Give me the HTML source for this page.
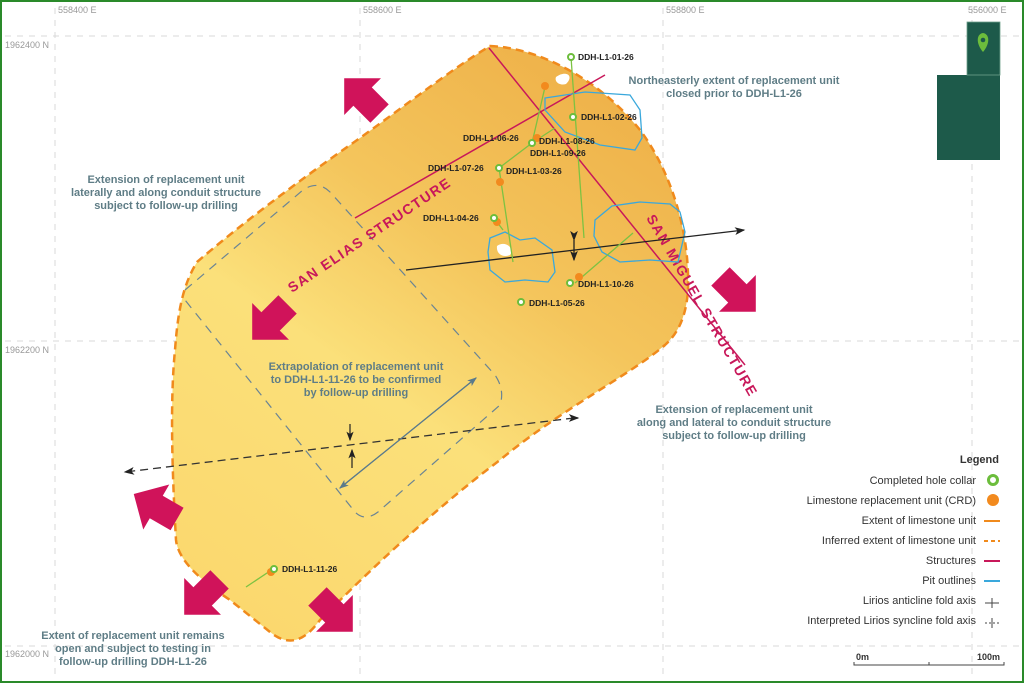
<!DOCTYPE html>
<html><head><meta charset="utf-8"><style>
html,body{margin:0;padding:0;background:#fff}
svg{display:block}
text{font-family:"Liberation Sans",sans-serif}
</style></head><body>
<svg width="1024" height="683" viewBox="0 0 1024 683" xmlns="http://www.w3.org/2000/svg">
<defs>
<linearGradient id="fill" x1="0.8" y1="0" x2="0.2" y2="1">
<stop offset="0" stop-color="#eeb048"/>
<stop offset="0.35" stop-color="#f4c55c"/>
<stop offset="0.6" stop-color="#fbe07a"/>
<stop offset="1" stop-color="#fbd86e"/>
</linearGradient>
<marker id="ah" markerWidth="8" markerHeight="8" refX="7" refY="4" orient="auto"><path d="M0,1 L8,4 L0,7 L2,4z" fill="#222"/></marker>
<marker id="ahb" markerWidth="8" markerHeight="8" refX="7" refY="4" orient="auto"><path d="M0,1 L8,4 L0,7 L2,4z" fill="#5a7a8c"/></marker>
<g id="arr"><path d="M2,-26 L28,0 L2,26 L2,13 L-22,13 L-22,-13 L2,-13z" fill="#d0135a"/></g>
</defs>
<rect x="1" y="1" width="1022" height="681" fill="#fff" stroke="#2a8a2a" stroke-width="2"/>
<g stroke="#d8d8d8" stroke-width="1" stroke-dasharray="6,6" fill="none">
<line x1="55" y1="8" x2="55" y2="680"/><line x1="360" y1="8" x2="360" y2="680"/><line x1="663" y1="8" x2="663" y2="680"/><line x1="972" y1="8" x2="972" y2="680"/>
<line x1="5" y1="36" x2="1020" y2="36"/><line x1="5" y1="341" x2="1020" y2="341"/><line x1="5" y1="646" x2="1020" y2="646"/>
</g>
<g font-size="9" fill="#999">
<text x="58" y="13">558400 E</text><text x="363" y="13">558600 E</text><text x="666" y="13">558800 E</text><text x="968" y="13">556000 E</text>
<text x="5" y="48">1962400 N</text><text x="5" y="353">1962200 N</text><text x="5" y="657">1962000 N</text>
</g>
<path d="M490,46 C540,48 600,80 640,130 C670,170 690,230 688,290 C686,320 676,335 665,345 C630,375 560,410 500,460 C440,505 380,560 320,620 C305,640 290,648 270,632 L230,600 C200,580 178,560 176,540 C172,470 170,400 175,350 C178,310 183,285 197,262 C240,225 300,180 350,145 C400,110 450,70 490,46z" fill="url(#fill)"/>
<path d="M490,46 C540,48 600,80 640,130 C670,170 690,230 688,290 C686,320 676,335 665,345 C630,375 560,410 500,460 C440,505 380,560 320,620 C305,640 290,648 270,632 L230,600 C200,580 178,560 176,540 C172,470 170,400 175,350 C178,310 183,285 197,262 C240,225 300,180 350,145 C400,110 450,70 490,46z" fill="none" stroke="#f08a1c" stroke-width="2.5" stroke-dasharray="8,5"/>
<path d="M185,290 L303,190 Q318,180 330,192 L495,375 Q505,390 500,405 L378,512 Q365,522 355,512 L185,300" fill="none" stroke="#6a8494" stroke-width="1.2" stroke-dasharray="9,7"/>
<g stroke="#c8185a" stroke-width="1.5" fill="none">
<line x1="489" y1="48" x2="745" y2="365"/>
<line x1="355" y1="218" x2="605" y2="75"/>
</g>
<text transform="translate(292,293) rotate(-34)" font-size="14" font-weight="bold" fill="#c8185a" letter-spacing="1.5">SAN ELIAS STRUCTURE</text>
<text transform="translate(646,218) rotate(60)" font-size="14" font-weight="bold" fill="#c8185a" letter-spacing="1.5">SAN MIGUEL STRUCTURE</text>
<g stroke="#3aa8dc" stroke-width="1.3" fill="none">
<path d="M545,98 L585,92 L630,95 L640,110 L642,138 L635,150 L600,145 L565,132 L545,110z"/>
<path d="M490,238 L505,232 L520,240 L535,238 L552,250 L555,272 L548,282 L525,280 L505,282 L490,270 L488,252z"/>
<path d="M595,220 L612,206 L640,202 L670,204 L680,212 L685,232 L678,262 L650,260 L620,262 L602,252 L594,236z"/>
</g>
<path d="M497,246 C505,240 515,248 510,255 C503,258 496,254 497,246z" fill="#fff"/>
<path d="M556,77 C565,70 575,75 566,84 C560,86 554,82 556,77z" fill="#fff"/>
<line x1="406" y1="270" x2="744" y2="230" stroke="#222" stroke-width="1.3" marker-end="url(#ah)"/>
<line x1="574" y1="240" x2="574" y2="260" stroke="#222" stroke-width="1.3" marker-end="url(#ah)" marker-start="url(#ah)"/>
<line x1="574" y1="418" x2="125" y2="472" stroke="#333" stroke-width="1.3" stroke-dasharray="8,5" marker-end="url(#ah)"/>
<line x1="574" y1="418" x2="578" y2="418" stroke="#333" stroke-width="1.3" marker-end="url(#ah)"/>
<line x1="350" y1="424" x2="350" y2="440" stroke="#222" stroke-width="1.2" marker-end="url(#ah)"/>
<line x1="352" y1="468" x2="352" y2="450" stroke="#222" stroke-width="1.2" marker-end="url(#ah)"/>
<line x1="340" y1="488" x2="476" y2="378" stroke="#5a7a8c" stroke-width="1.2" marker-end="url(#ahb)"/>
<line x1="476" y1="378" x2="340" y2="488" stroke="#5a7a8c" stroke-width="1.2" marker-end="url(#ahb)"/>
<g stroke="#7cc242" stroke-width="1.3">
<line x1="571" y1="57" x2="584" y2="238"/>
<line x1="532" y1="143" x2="545" y2="87"/>
<line x1="532" y1="143" x2="555" y2="128"/>
<line x1="499" y1="168" x2="532" y2="143"/>
<line x1="499" y1="168" x2="513" y2="262"/>
<line x1="494" y1="218" x2="503" y2="230"/>
<line x1="575" y1="283" x2="633" y2="233"/>
<line x1="273" y1="569" x2="246" y2="587"/>
</g>
<g fill="#f28a1e">
<circle cx="545" cy="86" r="4"/><circle cx="537" cy="138" r="4"/><circle cx="500" cy="182" r="4"/><circle cx="497" cy="222" r="4"/><circle cx="579" cy="277" r="4"/><circle cx="271" cy="572" r="4"/>
</g>
<g fill="#fff" stroke="#6cbd3c" stroke-width="2">
<circle cx="571" cy="57" r="3"/><circle cx="573" cy="117" r="3"/><circle cx="532" cy="143" r="3"/><circle cx="499" cy="168" r="3"/><circle cx="494" cy="218" r="3"/><circle cx="570" cy="283" r="3"/><circle cx="521" cy="302" r="3"/><circle cx="274" cy="569" r="3"/>
</g>
<g font-size="8.5" font-weight="bold" fill="#222">
<text x="578" y="60">DDH-L1-01-26</text>
<text x="581" y="120">DDH-L1-02-26</text>
<text x="463" y="141">DDH-L1-06-26</text>
<text x="539" y="144">DDH-L1-08-26</text>
<text x="530" y="156">DDH-L1-09-26</text>
<text x="428" y="171">DDH-L1-07-26</text>
<text x="506" y="174">DDH-L1-03-26</text>
<text x="423" y="221">DDH-L1-04-26</text>
<text x="578" y="287">DDH-L1-10-26</text>
<text x="529" y="306">DDH-L1-05-26</text>
<text x="282" y="572">DDH-L1-11-26</text>
</g>
<use href="#arr" transform="translate(364,98) rotate(-135)"/>
<use href="#arr" transform="translate(272,320) rotate(135)"/>
<use href="#arr" transform="translate(736,292) rotate(45)"/>
<use href="#arr" transform="translate(158,508) rotate(-150)"/>
<use href="#arr" transform="translate(204,595) rotate(135)"/>
<use href="#arr" transform="translate(333,612) rotate(45)"/>
<g font-size="11" font-weight="bold" fill="#5f7d86" text-anchor="middle">
<text x="166" y="183">Extension of replacement unit</text>
<text x="166" y="196">laterally and along conduit structure</text>
<text x="166" y="209">subject to follow-up drilling</text>
<text x="734" y="84">Northeasterly extent of replacement unit</text>
<text x="734" y="97">closed prior to DDH-L1-26</text>
<text x="356" y="370">Extrapolation of replacement unit</text>
<text x="356" y="383">to DDH-L1-11-26 to be confirmed</text>
<text x="356" y="396">by follow-up drilling</text>
<text x="734" y="413">Extension of replacement unit</text>
<text x="734" y="426">along and lateral to conduit structure</text>
<text x="734" y="439">subject to follow-up drilling</text>
<text x="133" y="639">Extent of replacement unit remains</text>
<text x="133" y="652">open and subject to testing in</text>
<text x="133" y="665">follow-up drilling DDH-L1-26</text>
</g>
<rect x="937" y="75" width="63" height="85" fill="#1d5a4a"/>
<rect x="967" y="22" width="33" height="53" fill="#1d5a4a" stroke="#6fa08a" stroke-width="0.8"/>
<path d="M983,52 C976,44 976,34 983,33 C990,34 990,44 983,52z" fill="#6cbd3c"/><circle cx="983" cy="40" r="2.3" fill="#1d5a4a"/>
<g font-size="11" fill="#333" text-anchor="end">
<text x="999" y="463" font-weight="bold">Legend</text>
<text x="976" y="484">Completed hole collar</text>
<text x="976" y="504">Limestone replacement unit (CRD)</text>
<text x="976" y="524">Extent of limestone unit</text>
<text x="976" y="544">Inferred extent of limestone unit</text>
<text x="976" y="564">Structures</text>
<text x="976" y="584">Pit outlines</text>
<text x="976" y="604">Lirios anticline fold axis</text>
<text x="976" y="624">Interpreted Lirios syncline fold axis</text>
</g>
<circle cx="993" cy="480" r="4.5" fill="#fff" stroke="#6cbd3c" stroke-width="3"/>
<circle cx="993" cy="500" r="6" fill="#f28a1e"/>
<line x1="984" y1="521" x2="1000" y2="521" stroke="#f08a1c" stroke-width="2"/>
<line x1="984" y1="541" x2="1000" y2="541" stroke="#f08a1c" stroke-width="2" stroke-dasharray="4,3"/>
<line x1="984" y1="561" x2="1000" y2="561" stroke="#c8185a" stroke-width="2"/>
<line x1="984" y1="581" x2="1000" y2="581" stroke="#3aa8dc" stroke-width="2"/>
<g stroke="#444" stroke-width="1"><line x1="985" y1="603" x2="999" y2="603"/><line x1="992" y1="598" x2="992" y2="608"/>
<line x1="985" y1="623" x2="999" y2="623" stroke-dasharray="2,2"/><line x1="992" y1="618" x2="992" y2="628"/></g>
<g stroke="#444" stroke-width="1" fill="none"><path d="M854,662 L854,665 L1004,665 L1004,662"/><line x1="929" y1="662" x2="929" y2="665"/></g>
<g font-size="9" font-weight="bold" fill="#333"><text x="856" y="660">0m</text><text x="977" y="660">100m</text></g>
</svg>
</body></html>
